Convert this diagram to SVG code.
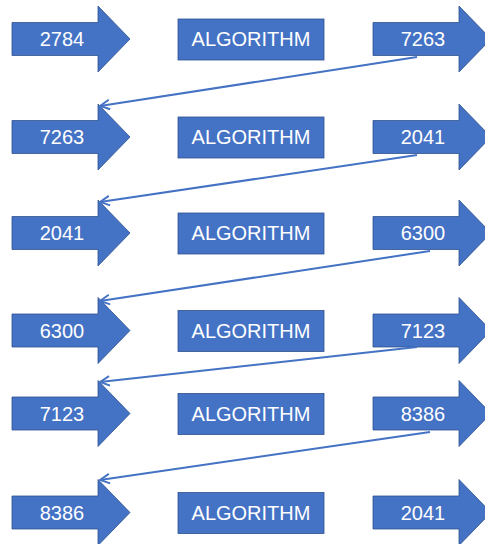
<svg xmlns="http://www.w3.org/2000/svg" xmlns:xlink="http://www.w3.org/1999/xlink" width="485" height="544" viewBox="0 0 485 544">
<style>
.shape{fill:#4472C4;stroke:#2F528F;stroke-width:0.8}
.t{fill:#fff;font-family:"Liberation Sans",Arial,sans-serif;font-size:20px;text-anchor:middle;dominant-baseline:central}
.conn{fill:none;stroke:#4472C4;stroke-width:2}
</style>
<defs>
<path id="arrL" d="M12,-16.5 H98 V-33 L130,0 L98,33 V16.5 H12 Z"/>
<path id="arrR" d="M373,-16.5 H459 V-33 L491,0 L459,33 V16.5 H373 Z"/>
<rect id="box" x="178" y="-20" width="146" height="41"/>
<marker id="ah" viewBox="0 0 10 10" refX="9" refY="5" markerWidth="6" markerHeight="6" orient="auto" markerUnits="strokeWidth">
<path d="M1,1 L9,5 L1,9" fill="none" stroke="#4472C4" stroke-width="1.6"/>
</marker>
</defs>
<g id="row1" transform="translate(0,39)">
<g id="in1"><use href="#arrL" class="shape"/><text class="t" x="62" y="0">2784</text></g>
<g id="alg1"><use href="#box" class="shape"/><text class="t" x="251" y="0">ALGORITHM</text></g>
<g id="out1"><use href="#arrR" class="shape"/><text class="t" x="423" y="0">7263</text></g>
</g>
<g id="row2" transform="translate(0,137)">
<g id="in2"><use href="#arrL" class="shape"/><text class="t" x="62" y="0">7263</text></g>
<g id="alg2"><use href="#box" class="shape"/><text class="t" x="251" y="0">ALGORITHM</text></g>
<g id="out2"><use href="#arrR" class="shape"/><text class="t" x="423" y="0">2041</text></g>
</g>
<g id="row3" transform="translate(0,233)">
<g id="in3"><use href="#arrL" class="shape"/><text class="t" x="62" y="0">2041</text></g>
<g id="alg3"><use href="#box" class="shape"/><text class="t" x="251" y="0">ALGORITHM</text></g>
<g id="out3"><use href="#arrR" class="shape"/><text class="t" x="423" y="0">6300</text></g>
</g>
<g id="row4" transform="translate(0,330.5)">
<g id="in4"><use href="#arrL" class="shape"/><text class="t" x="62" y="0">6300</text></g>
<g id="alg4"><use href="#box" class="shape"/><text class="t" x="251" y="0">ALGORITHM</text></g>
<g id="out4"><use href="#arrR" class="shape"/><text class="t" x="423" y="0">7123</text></g>
</g>
<g id="row5" transform="translate(0,413.5)">
<g id="in5"><use href="#arrL" class="shape"/><text class="t" x="62" y="0">7123</text></g>
<g id="alg5"><use href="#box" class="shape"/><text class="t" x="251" y="0">ALGORITHM</text></g>
<g id="out5"><use href="#arrR" class="shape"/><text class="t" x="423" y="0">8386</text></g>
</g>
<g id="row6" transform="translate(0,512.5)">
<g id="in6"><use href="#arrL" class="shape"/><text class="t" x="62" y="0">8386</text></g>
<g id="alg6"><use href="#box" class="shape"/><text class="t" x="251" y="0">ALGORITHM</text></g>
<g id="out6"><use href="#arrR" class="shape"/><text class="t" x="423" y="0">2041</text></g>
</g>
<g id="connectors">
<line class="conn" x1="417" y1="57" x2="100" y2="106" marker-end="url(#ah)"/>
<line class="conn" x1="417" y1="155" x2="100" y2="202" marker-end="url(#ah)"/>
<line class="conn" x1="430" y1="251" x2="100" y2="301" marker-end="url(#ah)"/>
<line class="conn" x1="417" y1="347" x2="100" y2="382" marker-end="url(#ah)"/>
<line class="conn" x1="430" y1="432" x2="100" y2="480" marker-end="url(#ah)"/>
</g>
</svg>
